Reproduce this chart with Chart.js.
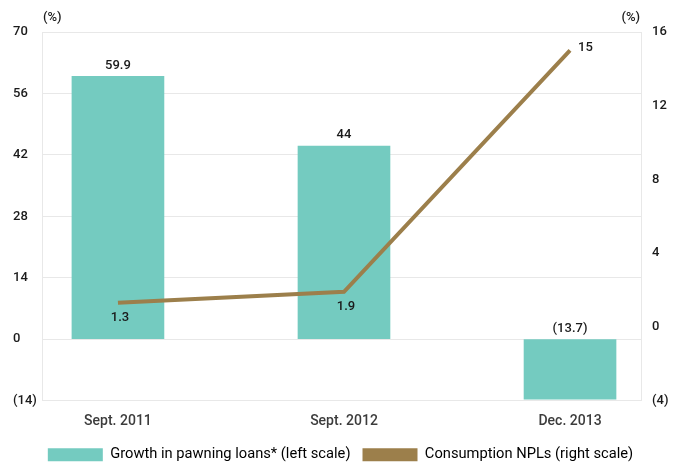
<!DOCTYPE html>
<html>
<head>
<meta charset="utf-8">
<script src="https://cdn.jsdelivr.net/npm/chart.js@4"></script>
<style>
  html, body { margin: 0; padding: 0; background: #ffffff; }
  #wrap { width: 685px; height: 466px; }
</style>
</head>
<body>
<div id="wrap"><canvas id="chart" width="685" height="466"></canvas></div>
<script>
const categories = ['Sept. 2011', 'Sept. 2012', 'Dec. 2013'];
const pawningGrowth = [59.9, 44, -13.7];
const consumptionNpl = [1.3, 1.9, 15];
const leftTicks = [-14, 0, 14, 28, 42, 56, 70];
const rightTicks = [-4, 0, 4, 8, 12, 16];
const seriesNames = ['Growth in pawning loans* (left scale)', 'Consumption NPLs (right scale)'];
const unitLabel = '(%)';

const FONT = 'Roboto, "Noto Sans", sans-serif';
const TEAL = '#74cbc0';
const BROWN = '#9c7f4b';

function formatValue(value) {
  return value < 0 ? `(${Math.abs(value)})` : `${value}`;
}

// value labels on bars and line points, plus the two "(%)" unit captions
const valueLabels = {
  id: 'valueLabels',
  afterDatasetsDraw(chart) {
    const ctx = chart.ctx;
    ctx.save();
    ctx.font = `500 13px ${FONT}`;
    ctx.fillStyle = '#1a1a1a';
    ctx.textBaseline = 'middle';

    const barMeta = chart.getDatasetMeta(0);
    barMeta.data.forEach((bar, i) => {
      const value = pawningGrowth[i];
      const top = value >= 0 ? bar.y : bar.base;
      ctx.textAlign = 'center';
      ctx.fillText(formatValue(value), bar.x, top - 11);
    });

    const lineMeta = chart.getDatasetMeta(1);
    lineMeta.data.forEach((pt, i) => {
      const text = formatValue(consumptionNpl[i]);
      if (i === lineMeta.data.length - 1) {
        ctx.textAlign = 'left';
        ctx.fillText(text, pt.x + 8, pt.y - 3);
      } else {
        ctx.textAlign = 'center';
        ctx.fillText(text, pt.x + 2, pt.y + 15);
      }
    });

    const area = chart.chartArea;
    ctx.textAlign = 'left';
    ctx.fillText(unitLabel, area.left + 1, area.top - 14);
    ctx.textAlign = 'right';
    ctx.fillText(unitLabel, area.right - 1, area.top - 14);
    ctx.restore();
  }
};

const ctx = document.getElementById('chart').getContext('2d');
new Chart(ctx, {
  type: 'bar',
  data: {
    datasets: [
      {
        type: 'bar',
        label: seriesNames[0],
        data: categories.map((c, i) => ({ x: i, y: pawningGrowth[i] })),
        backgroundColor: TEAL,
        borderWidth: 0,
        barThickness: 92,
        yAxisID: 'y',
        order: 1
      },
      {
        type: 'line',
        label: seriesNames[1],
        data: categories.map((c, i) => ({ x: i, y: consumptionNpl[i] })),
        borderColor: BROWN,
        backgroundColor: BROWN,
        borderWidth: 4,
        pointRadius: 0,
        tension: 0,
        yAxisID: 'y1',
        order: 0
      }
    ]
  },
  options: {
    responsive: false,
    animation: false,
    devicePixelRatio: 1,
    layout: { padding: { left: 13, right: 17, top: 32, bottom: -6 } },
    plugins: {
      tooltip: { enabled: false },
      legend: {
        position: 'bottom',
        labels: {
          boxWidth: 55,
          boxHeight: 13,
          padding: 12,
          color: '#3c3c3c',
          font: { family: FONT, size: 14.7 },
          generateLabels: chart => chart.data.datasets.map((ds, i) => ({
            text: ds.label,
            fillStyle: i === 0 ? TEAL : BROWN,
            strokeStyle: i === 0 ? TEAL : BROWN,
            lineWidth: 0,
            datasetIndex: i,
            hidden: false
          }))
        }
      }
    },
    scales: {
      x: {
        type: 'linear',
        offset: false,
        min: -0.336,
        max: 2.314,
        grid: { display: false },
        border: { display: false },
        afterBuildTicks: scale => {
          scale.ticks = categories.map((c, i) => ({ value: i }));
        },
        ticks: {
          color: '#3c3c3c',
          font: { family: FONT, size: 14, weight: 500 },
          padding: 5,
          maxRotation: 0,
          callback: value => categories[value]
        }
      },
      y: {
        position: 'left',
        min: -14,
        max: 70,
        afterBuildTicks: scale => {
          scale.ticks = leftTicks.map(v => ({ value: v }));
        },
        afterFit: scale => { scale.width = 29; },
        grid: { color: '#e8e8e8', drawTicks: false, lineWidth: 1 },
        border: { color: '#e8e8e8' },
        ticks: {
          color: '#1a1a1a',
          crossAlign: 'far',
          padding: 6,
          font: { family: FONT, size: 13, weight: 500 },
          callback: value => formatValue(value)
        }
      },
      y1: {
        position: 'right',
        min: -4,
        max: 16,
        afterBuildTicks: scale => {
          scale.ticks = rightTicks.map(v => ({ value: v }));
        },
        afterFit: scale => { scale.width = 27; },
        grid: { display: false, drawTicks: false },
        border: { color: '#e8e8e8' },
        ticks: {
          color: '#1a1a1a',
          padding: 11,
          font: { family: FONT, size: 13, weight: 500 },
          callback: value => formatValue(value)
        }
      }
    }
  },
  plugins: [valueLabels]
});
</script>
</body>
</html>
